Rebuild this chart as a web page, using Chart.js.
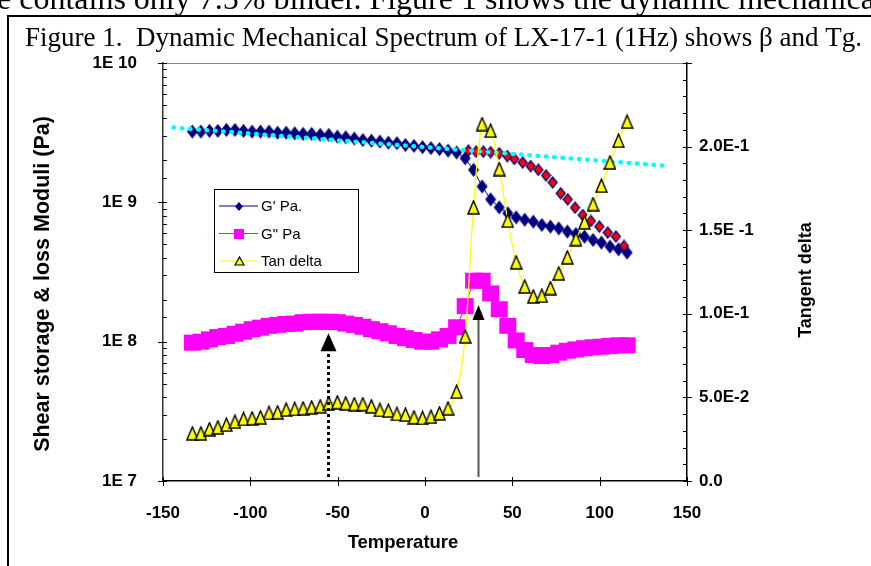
<!DOCTYPE html>
<html>
<head>
<meta charset="utf-8">
<title>LX-17-1 DMA</title>
<script src="https://cdn.jsdelivr.net/npm/chart.js@4.4.1/dist/chart.umd.min.js"></script>
<style>
  html, body { margin: 0; padding: 0; background: #fff; }
  canvas { display: block; }
</style>
</head>
<body>
<canvas id="dmaChart" width="871" height="566"></canvas>
<script>
// Temperature sweep (deg C)
const temps = [-133.2, -128.3, -123.4, -118.6, -113.7, -108.8, -103.9, -99.0, -94.2, -89.3,
  -84.4, -79.5, -74.6, -69.8, -64.9, -60.0, -55.1, -50.2, -45.4, -40.5,
  -35.6, -30.7, -25.8, -21.0, -16.1, -11.2, -6.3, -1.4, 3.4, 8.3,
  13.2, 18.1, 23.0, 27.8, 32.7, 37.6, 42.5, 47.4, 52.2, 57.1,
  62.0, 66.9, 71.8, 76.6, 81.5, 86.4, 91.3, 96.2, 101.0, 105.9,
  110.8, 115.7];

// storage modulus G' (Pa)
const gPrime = [3.22e9, 3.22e9, 3.26e9, 3.26e9, 3.31e9, 3.31e9, 3.26e9, 3.22e9, 3.22e9, 3.22e9,
  3.16e9, 3.16e9, 3.13e9, 3.10e9, 3.10e9, 3.05e9, 3.05e9, 2.96e9, 2.93e9, 2.87e9,
  2.80e9, 2.77e9, 2.73e9, 2.68e9, 2.66e9, 2.58e9, 2.54e9, 2.49e9, 2.45e9, 2.41e9,
  2.35e9, 2.28e9, 2.07e9, 1.71e9, 1.30e9, 1.05e9, 9.2e8, 8.35e8, 7.8e8, 7.5e8,
  7.27e8, 6.88e8, 6.7e8, 6.5e8, 6.17e8, 5.93e8, 5.67e8, 5.37e8, 5.14e8, 4.81e8,
  4.6e8, 4.36e8];

// loss modulus G" (Pa)
const gDoublePrime = [9.84e7, 1.00e8, 1.04e8, 1.08e8, 1.10e8, 1.14e8, 1.18e8, 1.23e8, 1.26e8, 1.30e8,
  1.32e8, 1.34e8, 1.35e8, 1.38e8, 1.39e8, 1.39e8, 1.39e8, 1.38e8, 1.35e8, 1.32e8,
  1.28e8, 1.23e8, 1.19e8, 1.15e8, 1.10e8, 1.06e8, 1.03e8, 1.00e8, 1.00e8, 1.04e8,
  1.10e8, 1.27e8, 1.80e8, 2.74e8, 2.74e8, 2.22e8, 1.71e8, 1.30e8, 1.02e8, 8.71e7,
  8.03e7, 7.89e7, 8.03e7, 8.34e7, 8.61e7, 8.81e7, 8.97e7, 9.12e7, 9.21e7, 9.31e7,
  9.42e7, 9.42e7];

// tan delta (right axis)
const tanDelta = [0.0285, 0.0285, 0.0311, 0.0321, 0.0337, 0.0355, 0.0371, 0.0375, 0.0381, 0.0407,
  0.0411, 0.0427, 0.0431, 0.0435, 0.0441, 0.0447, 0.0465, 0.0471, 0.0465, 0.0460,
  0.0460, 0.0447, 0.0425, 0.0421, 0.0401, 0.0397, 0.0381, 0.0377, 0.0385, 0.0405,
  0.0435, 0.0534, 0.0865, 0.1637, 0.2135, 0.2095, 0.1866, 0.1557, 0.1308, 0.1164,
  0.1104, 0.1108, 0.1154, 0.1242, 0.1338, 0.1447, 0.1547, 0.1656, 0.1766, 0.1906,
  0.2035, 0.2149];

// red diamonds (shifted G' curve)
const shiftTemps = [24.8, 29.2, 33.4, 37.6, 42.5, 47.1, 51.1, 55.9, 60.5, 64.9,
  69.3, 73.1, 77.7, 81.7, 85.9, 90.3, 95.0, 99.8, 104.6, 109.3, 113.9];
const shiftValues = [2.35e9, 2.31e9, 2.31e9, 2.29e9, 2.25e9, 2.15e9, 2.05e9, 1.93e9, 1.82e9, 1.71e9,
  1.56e9, 1.39e9, 1.16e9, 1.05e9, 9.16e8, 8.11e8, 7.35e8, 6.70e8, 6.07e8, 5.68e8, 4.86e8];

// cyan dotted trend line end points
const trendTemps = [-144, 140];
const trendValues = [3.44e9, 1.82e9];

// arrows marking beta and Tg
const arrowTemps = [-55.5, 30.2];
const arrowTips = [1.15e8, 1.83e8];

const xTickLabels = ['-150', '-100', '-50', '0', '50', '100', '150'];
const leftTickLabels = ['1E 7', '1E 8', '1E 9', '1E 10'];
const rightTickLabels = ['0.0', '5.0E-2', '1.0E-1', '1.5E -1', '2.0E-1', ''];

const legendNames = ["G' Pa.", 'G" Pa', 'Tan delta'];

// little canvases used as point markers
function makeMarker(w, h, shape, fill, stroke, lw) {
  const c = document.createElement('canvas');
  c.width = w + 2;
  c.height = h + 2;
  const g = c.getContext('2d');
  const cx = c.width / 2, cy = c.height / 2;
  g.beginPath();
  if (shape === 'diamond') {
    g.moveTo(cx, cy - h / 2);
    g.lineTo(cx + w / 2, cy);
    g.lineTo(cx, cy + h / 2);
    g.lineTo(cx - w / 2, cy);
  } else if (shape === 'square') {
    g.rect(cx - w / 2, cy - h / 2, w, h);
  } else {
    g.moveTo(cx, cy - h / 2);
    g.lineTo(cx + w / 2, cy + h / 2);
    g.lineTo(cx - w / 2, cy + h / 2);
  }
  g.closePath();
  g.fillStyle = fill;
  g.fill();
  if (lw) {
    g.lineWidth = lw;
    g.strokeStyle = stroke;
    g.stroke();
  }
  return c;
}

const diamondMark = makeMarker(11, 14, 'diamond', '#000080', '#000080', 0);
const redMark = makeMarker(9, 11, 'diamond', '#FF0000', '#000080', 1.2);
const squareMark = makeMarker(17, 16, 'square', '#FF00FF', '#FF00FF', 0);
const triangleMark = makeMarker(11, 13, 'triangle', '#FFFF00', '#000000', 1.4);

const legendMarks = [makeMarker(8, 9, 'diamond', '#000080', '#000080', 0),
  makeMarker(10, 10, 'square', '#FF00FF', '#FF00FF', 0),
  makeMarker(9, 8, 'triangle', '#FFFF00', '#000000', 1.2)];
const legendColors = ['#000080', '#FF00FF', '#FFFF00'];

const toPoints = (xs, ys) => xs.map((t, i) => ({ x: t, y: ys[i] }));

const isDecade = v => Math.abs(Math.log10(v) - Math.round(Math.log10(v))) < 1e-9;

// frame, titles, tick marks, legend and arrows
const decorations = {
  id: 'decorations',
  beforeDraw(chart) {
    const ctx = chart.ctx;
    ctx.save();
    ctx.fillStyle = '#fff';
    ctx.fillRect(0, 0, chart.width, chart.height);
    ctx.fillStyle = '#000';
    ctx.textBaseline = 'alphabetic';
    ctx.textAlign = 'left';
    // page text above the figure, cut off at the top
    ctx.font = '32px "Liberation Serif", "Times New Roman", serif';
    ctx.fillText('e contains only 7.5% binder. Figure 1 shows the dynamic mechanical', -3, 9);
    // figure frame
    ctx.strokeStyle = '#000';
    ctx.lineWidth = 2;
    ctx.beginPath();
    ctx.moveTo(8, chart.height);
    ctx.lineTo(8, 16);
    ctx.lineTo(chart.width, 16);
    ctx.stroke();
    ctx.font = '27px "Liberation Serif", "Times New Roman", serif';
    ctx.fillText('Figure 1.  Dynamic Mechanical Spectrum of LX-17-1 (1Hz) shows \u03B2 and Tg.', 25, 46);
    ctx.restore();
  },
  afterDatasetsDraw(chart) {
    const ctx = chart.ctx;
    const xs = chart.scales.x, ys = chart.scales.y;
    const bottom = chart.chartArea.bottom;
    ctx.save();
    arrowTemps.forEach((t, i) => {
      const px = Math.round(xs.getPixelForValue(t)) + 0.5;
      const tip = ys.getPixelForValue(arrowTips[i]);
      const dotted = i === 0;
      const headLen = dotted ? 18 : 15;
      const headHalf = dotted ? 8 : 6;
      ctx.strokeStyle = dotted ? '#000' : '#555';
      ctx.lineWidth = dotted ? 3 : 2;
      ctx.setLineDash(dotted ? [3, 3] : []);
      ctx.beginPath();
      ctx.moveTo(px, bottom - 4);
      ctx.lineTo(px, tip + headLen - 1);
      ctx.stroke();
      ctx.setLineDash([]);
      ctx.fillStyle = '#000';
      ctx.beginPath();
      ctx.moveTo(px, tip);
      ctx.lineTo(px + headHalf, tip + headLen);
      ctx.lineTo(px - headHalf, tip + headLen);
      ctx.closePath();
      ctx.fill();
    });
    ctx.restore();
  },
  afterDraw(chart) {
    const ctx = chart.ctx;
    const { left, right, top, bottom } = chart.chartArea;
    const xs = chart.scales.x, ys = chart.scales.y, y2 = chart.scales.y2;
    ctx.save();
    // grey top edge of plot area
    ctx.strokeStyle = '#888';
    ctx.lineWidth = 1;
    ctx.beginPath();
    ctx.moveTo(left, top + 0.5);
    ctx.lineTo(right, top + 0.5);
    ctx.stroke();

    ctx.strokeStyle = '#000';
    ctx.lineWidth = 1;
    ctx.beginPath();
    // x ticks cross the axis
    xs.ticks.forEach(tk => {
      const px = Math.round(xs.getPixelForValue(tk.value)) + 0.5;
      ctx.moveTo(px, bottom - 4);
      ctx.lineTo(px, bottom + 5);
    });
    // log ticks on the left
    ys.ticks.forEach(tk => {
      const py = Math.round(ys.getPixelForValue(tk.value)) + 0.5;
      if (isDecade(tk.value)) {
        ctx.moveTo(left - 5, py);
        ctx.lineTo(left + 4, py);
      } else {
        ctx.moveTo(left, py);
        ctx.lineTo(left + 4, py);
      }
    });
    // right axis: majors cross, minors inside
    const step = 0.05 / 5;
    for (let v = y2.min; v <= y2.max + 1e-9; v += step) {
      const py = Math.round(y2.getPixelForValue(v)) + 0.5;
      const major = Math.abs(v / 0.05 - Math.round(v / 0.05)) < 1e-6;
      ctx.moveTo(right - 4, py);
      ctx.lineTo(major ? right + 5 : right, py);
    }
    ctx.stroke();

    // axis titles
    ctx.fillStyle = '#000';
    ctx.textAlign = 'center';
    ctx.textBaseline = 'middle';
    ctx.font = 'bold 18.5px "Liberation Sans", Arial, sans-serif';
    ctx.fillText('Temperature', 403, 543);
    ctx.save();
    ctx.translate(43, 284);
    ctx.rotate(-Math.PI / 2);
    ctx.font = 'bold 21.5px "Liberation Sans", Arial, sans-serif';
    ctx.fillText('Shear storage & loss Moduli (Pa)', 0, 0);
    ctx.restore();
    ctx.save();
    ctx.translate(806, 280);
    ctx.rotate(-Math.PI / 2);
    ctx.font = 'bold 18px "Liberation Sans", Arial, sans-serif';
    ctx.fillText('Tangent delta', 0, 0);
    ctx.restore();

    // legend box
    ctx.fillStyle = '#fff';
    ctx.fillRect(214, 189, 144, 83);
    ctx.strokeStyle = '#000';
    ctx.lineWidth = 1;
    ctx.strokeRect(214.5, 189.5, 144, 83);
    ctx.textAlign = 'left';
    ctx.font = '15px "Liberation Sans", Arial, sans-serif';
    legendNames.forEach((name, i) => {
      const ly = 206 + i * 27.5;
      ctx.strokeStyle = legendColors[i];
      ctx.lineWidth = 1.2;
      ctx.beginPath();
      ctx.moveTo(219, ly);
      ctx.lineTo(258, ly);
      ctx.stroke();
      const m = legendMarks[i];
      ctx.drawImage(m, Math.round(239 - m.width / 2), Math.round(ly - m.height / 2));
      ctx.fillStyle = '#000';
      ctx.fillText(name, 261, ly + 1);
    });
    ctx.restore();
  }
};

const tickFont = { family: '"Liberation Sans", Arial, sans-serif', size: 17, weight: 'bold' };

new Chart(document.getElementById('dmaChart'), {
  type: 'line',
  data: {
    datasets: [
      {
        label: legendNames[2],
        data: toPoints(temps, tanDelta),
        yAxisID: 'y2',
        borderColor: '#FFFF00',
        borderWidth: 1.3,
        tension: 0.3,
        pointStyle: triangleMark,
        pointRadius: 6
      },
      {
        label: 'trend',
        data: toPoints(trendTemps, trendValues),
        yAxisID: 'y',
        borderColor: '#00FFFF',
        borderWidth: 4.5,
        borderDash: [0.5, 7.8],
        borderCapStyle: 'round',
        pointRadius: 0
      },
      {
        label: 'shifted',
        data: toPoints(shiftTemps, shiftValues),
        yAxisID: 'y',
        showLine: false,
        pointStyle: redMark,
        pointRadius: 5
      },
      {
        label: legendNames[0],
        data: toPoints(temps, gPrime),
        yAxisID: 'y',
        borderColor: '#000080',
        borderWidth: 1,
        pointStyle: diamondMark,
        pointRadius: 6
      },
      {
        label: legendNames[1],
        data: toPoints(temps, gDoublePrime),
        yAxisID: 'y',
        borderColor: '#FF00FF',
        borderWidth: 1,
        pointStyle: squareMark,
        pointRadius: 8
      }
    ]
  },
  options: {
    responsive: false,
    animation: false,
    events: [],
    layout: { padding: { top: 63, left: 0, right: 0, bottom: 0 } },
    plugins: { legend: { display: false }, tooltip: { enabled: false } },
    scales: {
      x: {
        type: 'linear',
        position: 'bottom',
        min: -150,
        max: 150,
        grid: { display: false, drawTicks: false },
        border: { color: '#000', width: 1.5 },
        ticks: {
          stepSize: 50,
          padding: 22,
          color: '#000',
          font: tickFont,
          maxRotation: 0,
          callback: (v, i) => xTickLabels[i]
        },
        afterFit: s => { s.height = 85; }
      },
      y: {
        type: 'logarithmic',
        position: 'left',
        min: 1e7,
        max: 1e10,
        grid: { display: false, drawTicks: false },
        border: { color: '#333', width: 1.5 },
        ticks: {
          autoSkip: false,
          padding: 26,
          color: '#000',
          font: tickFont,
          callback: v => isDecade(v) ? leftTickLabels[Math.round(Math.log10(v)) - 7] : ''
        },
        afterFit: s => { s.width = 163; }
      },
      y2: {
        type: 'linear',
        position: 'right',
        min: 0,
        max: 0.25,
        grid: { display: false, drawTicks: false },
        border: { color: '#000', width: 1.5 },
        ticks: {
          stepSize: 0.05,
          padding: 12,
          color: '#000',
          font: tickFont,
          callback: (v, i) => rightTickLabels[i]
        },
        afterFit: s => { s.width = 184; }
      }
    }
  },
  plugins: [decorations]
});
</script>
</body>
</html>
